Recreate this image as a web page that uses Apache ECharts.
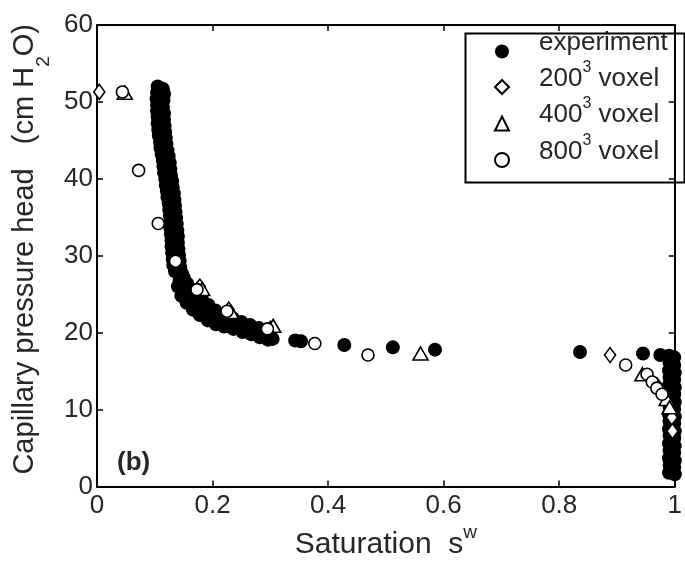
<!DOCTYPE html>
<html>
<head>
<meta charset="utf-8">
<style>html,body{margin:0;padding:0;background:#fff;}#c{width:685px;height:565px;}</style>
<script src="https://cdn.jsdelivr.net/npm/echarts@6/dist/echarts.min.js"></script>
</head>
<body>
<div id="c"></div>
<script>
// ---- data ----
var xTicks = [0, 0.2, 0.4, 0.6, 0.8, 1];
var yTicks = [0, 10, 20, 30, 40, 50, 60];

var experiment = [
  [0.105,52.0],[0.114,51.7],[0.104,51.2],[0.116,51.0],[0.103,50.4],[0.115,50.2],
  [0.104,49.6],[0.114,49.3],[0.104,48.8],[0.116,48.5],[0.105,48.0],[0.116,47.7],
  [0.105,47.2],[0.117,46.9],[0.106,46.4],[0.118,46.1],[0.107,45.6],[0.119,45.3],
  [0.109,44.8],[0.120,44.5],[0.110,44.0],[0.122,43.7],[0.112,43.2],[0.124,42.9],
  [0.114,42.4],[0.126,42.1],[0.115,41.6],[0.127,41.3],[0.116,40.8],[0.128,40.5],
  [0.118,40.0],[0.130,39.7],[0.119,39.2],[0.131,38.9],[0.121,38.4],[0.133,38.1],
  [0.122,37.6],[0.134,37.3],[0.124,36.8],[0.135,36.5],[0.125,36.0],[0.136,35.7],
  [0.126,35.2],[0.137,34.9],[0.127,34.4],[0.138,34.1],[0.127,33.6],[0.139,33.3],
  [0.128,32.8],[0.140,32.5],[0.129,32.0],[0.140,31.7],[0.129,31.2],[0.141,30.9],
  [0.130,30.4],[0.142,30.1],[0.131,29.6],[0.143,29.3],[0.132,28.8],[0.144,28.5],
  [0.135,28.0],[0.147,27.7],
  [0.150,27.2],[0.156,26.4],[0.163,25.6],[0.172,24.9],[0.182,24.3],[0.193,23.6],
  [0.205,22.9],[0.220,22.4],[0.235,21.9],[0.250,21.4],[0.265,21.0],[0.280,20.6],[0.293,20.3],
  [0.143,26.8],[0.150,25.6],[0.158,24.8],[0.170,23.9],[0.184,23.0],[0.198,22.3],
  [0.212,21.7],[0.228,21.2],[0.243,20.8],[0.258,20.5],[0.273,20.1],[0.288,19.8],[0.300,19.6],
  [0.140,26.0],[0.146,24.8],[0.155,23.9],[0.166,23.0],[0.178,22.3],[0.192,21.6],
  [0.206,21.1],[0.220,20.8],[0.236,20.5],[0.252,20.1],[0.267,19.8],[0.282,19.4],[0.296,19.1],[0.304,19.2],
  [0.343,19.0],[0.353,18.9],[0.428,18.4],[0.512,18.1],[0.585,17.8],[0.836,17.5],
  [0.945,17.3],[0.975,17.1],
  [0.990,17.0],[0.999,16.8],[0.991,16.1],[0.999,15.8],[0.990,15.1],[1.000,14.8],
  [0.991,14.2],[0.999,13.9],[0.990,13.2],[1.000,12.9],[0.991,12.3],[0.999,12.0],
  [0.990,11.3],[1.000,11.0],[0.991,10.4],[0.999,10.1],[0.990,9.4],[1.000,9.1],
  [0.991,8.5],[0.999,8.2],[0.990,7.5],[1.000,7.2],[0.991,6.6],[0.999,6.3],
  [0.990,5.6],[1.000,5.3],[0.991,4.7],[0.999,4.4],[0.990,3.7],[1.000,3.4],
  [0.991,2.8],[0.999,2.5],[0.990,1.8],[1.000,1.6]
];
var voxel200 = [
  [0.004,51.3],[0.178,26.0],[0.228,23.0],[0.300,20.5],[0.888,17.1],
  [0.970,13.1],[0.995,9.0],[0.996,7.2]
];
var voxel400 = [
  [0.048,51.2],[0.182,25.7],[0.232,22.7],[0.305,20.9],[0.560,17.3],
  [0.944,14.6],[0.986,11.4],[0.991,10.3]
];
var voxel800 = [
  [0.044,51.3],[0.072,41.1],[0.106,34.2],[0.136,29.3],[0.173,25.6],[0.225,22.8],
  [0.295,20.5],[0.377,18.6],[0.469,17.1],[0.915,15.8],[0.952,14.6],[0.961,13.6],
  [0.969,12.8],[0.978,12.0]
];
var seriesNames = ['experiment', '200³ voxel', '400³ voxel', '800³ voxel'];

// ---- chart ----
var FONT = 'Liberation Sans, Arial, Helvetica, sans-serif';
var TXT = '#262626';
var chart = echarts.init(document.getElementById('c'), null, {renderer: 'canvas'});

function mkX(pos, showLabel) {
  return {
    type: 'value', position: pos, min: 0, max: 1, interval: 0.2,
    axisLine: {show: true, onZero: false, lineStyle: {color: '#000', width: 2}},
    axisTick: {show: true, inside: true, length: 6, lineStyle: {color: '#000', width: 1.5}},
    axisLabel: {show: showLabel, margin: 6, fontSize: 26, color: TXT, fontFamily: FONT,
      formatter: function (v) { return String(+v.toFixed(1)); }},
    splitLine: {show: false}
  };
}
function mkY(pos, showLabel) {
  return {
    type: 'value', position: pos, min: 0, max: 60, interval: 10,
    axisLine: {show: true, onZero: false, lineStyle: {color: '#000', width: 2}},
    axisTick: {show: true, inside: true, length: 6, lineStyle: {color: '#000', width: 1.5}},
    axisLabel: {show: showLabel, margin: 4, fontSize: 26, color: TXT, fontFamily: FONT},
    splitLine: {show: false}
  };
}

var xMain = mkX('bottom', true);
xMain.name = '{a|Saturation  s}{s|w}';
xMain.nameLocation = 'middle';
xMain.nameGap = 35;
xMain.nameTextStyle = {
  rich: {
    a: {fontSize: 30, lineHeight: 43, verticalAlign: 'middle', color: TXT, fontFamily: FONT},
    s: {fontSize: 19, lineHeight: 19, verticalAlign: 'top', color: TXT, fontFamily: FONT}
  }
};
var yMain = mkY('left', true);
yMain.name = '{a|Capillary pressure head   (cm H}{b|2}{a|O)}';
yMain.nameLocation = 'middle';
yMain.nameGap = 42;
yMain.nameTextStyle = {
  padding: [0, 0, 0, 13],
  rich: {
    a: {fontSize: 29, lineHeight: 43, verticalAlign: 'top', color: TXT, fontFamily: FONT},
    b: {fontSize: 19, lineHeight: 43, verticalAlign: 'bottom', color: TXT, fontFamily: FONT}
  }
};

var hollow = {color: '#fff', borderColor: '#000', borderWidth: 1.6, opacity: 1};

chart.setOption({
  animation: false,
  backgroundColor: '#fff',
  grid: {left: 97, right: 2, top: 25, bottom: 74, containLabel: false},
  xAxis: [xMain, mkX('top', false)],
  yAxis: [yMain, mkY('right', false)],
  legend: {
    data: seriesNames,
    orient: 'vertical',
    left: 494, top: 30,
    padding: 0,
    itemWidth: 14, itemHeight: 14, itemGap: 1,
    selectedMode: false,
    formatter: function (n) {
      if (n.indexOf('³') < 0) return '{a|' + n + '}';
      var p = n.split('³');
      return '{a|' + p[0] + '}{s|3}{a|' + p[1] + '}';
    },
    textStyle: {
      padding: [0, 0, 17, 25],
      rich: {
        a: {fontSize: 26, lineHeight: 38, verticalAlign: 'middle', color: TXT, fontFamily: FONT},
        s: {fontSize: 16, lineHeight: 16, verticalAlign: 'top', color: TXT, fontFamily: FONT}
      }
    }
  },
  graphic: [
    {type: 'rect', left: 463, top: 31, z: 100,
      shape: {width: 219, height: 149},
      style: {fill: 'none', stroke: '#000', lineWidth: 2}},
    {type: 'text', x: 117, y: 463, z: 100,
      style: {text: '(b)', font: 'bold 26px ' + FONT, fill: TXT, verticalAlign: 'middle'}}
  ],
  series: [
    {name: seriesNames[0], type: 'scatter', data: experiment, symbol: 'circle', symbolSize: 14,
      clip: false, itemStyle: {color: '#000', borderColor: '#000', borderWidth: 0, opacity: 1}, z: 2},
    {name: seriesNames[1], type: 'scatter', data: voxel200, symbol: 'diamond', symbolSize: [11, 15],
      clip: false, itemStyle: hollow, z: 3},
    {name: seriesNames[2], type: 'scatter', data: voxel400, symbol: 'triangle', symbolSize: [15, 13],
      clip: false, itemStyle: hollow, z: 3},
    {name: seriesNames[3], type: 'scatter', data: voxel800, symbol: 'circle', symbolSize: 12,
      clip: false, itemStyle: hollow, z: 4}
  ]
});
</script>
</body>
</html>
